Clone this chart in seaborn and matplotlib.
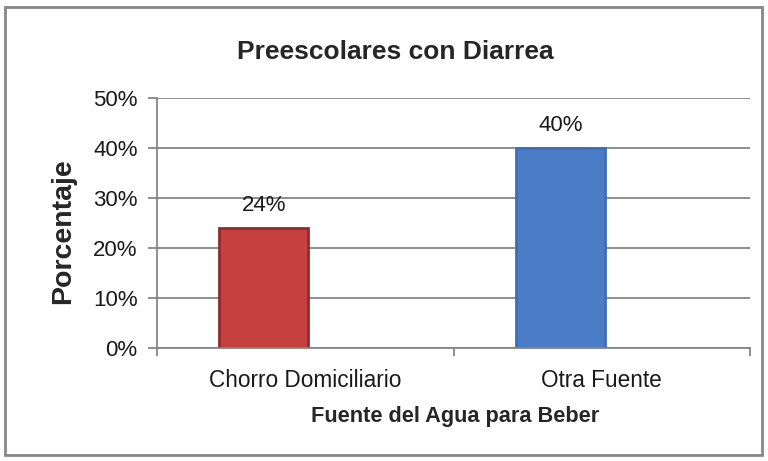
import matplotlib.pyplot as plt
import matplotlib.patches as mpatches
import seaborn as sns
import pandas as pd
from matplotlib.ticker import PercentFormatter

categorias = ["Chorro Domiciliario", "Otra Fuente"]
porcentajes = [24, 40]
colores = ["#C6403F", "#4A7DC6"]
bordes = ["#8E2B2B", "#3F6FB3"]
ticks_y = [0, 10, 20, 30, 40, 50]

sns.set_style("white")
plt.rcParams['font.family'] = ['Liberation Sans', 'DejaVu Sans']
GRIS = "#868686"
desplazamiento = -0.14  # las barras van algo a la izquierda del centro (como en Excel)

df = pd.DataFrame({"fuente": categorias, "pct": porcentajes})

fig = plt.figure(figsize=(7.68, 4.61), dpi=100)
ax = fig.add_axes([0.2044, 0.2451, 0.7722, 0.5423])

sns.barplot(data=df, x="fuente", y="pct", hue="fuente", palette=colores,
            width=0.3, legend=False, ax=ax, saturation=1)
for bar, ec in zip(ax.patches, bordes):
    bar.set_x(bar.get_x() + desplazamiento)
    bar.set_edgecolor(ec)
    bar.set_linewidth(2)

ax.set_ylim(0, 50)
ax.set_xlim(-0.5, 1.5)
ax.set_yticks(ticks_y)
ax.yaxis.set_major_formatter(PercentFormatter(decimals=0))
ax.grid(axis="y", color=GRIS, linewidth=1.3)
ax.set_axisbelow(True)
for s in ["top", "right"]:
    ax.spines[s].set_visible(False)
for s in ["left", "bottom"]:
    ax.spines[s].set_color(GRIS)
    ax.spines[s].set_linewidth(1.3)

# marcas del eje x en los limites de categoria
ax.set_xticks([-0.5, 0.5, 1.5], minor=True)
ax.tick_params(axis="x", which="major", bottom=True, length=0, labelsize=16.3,
               pad=15, labelcolor="#1a1a1a")
ax.tick_params(axis="x", which="minor", bottom=True, length=6, color=GRIS,
               width=1.3, direction="out")
ax.tick_params(axis="y", left=True, length=6.5, color=GRIS, width=1.3,
               direction="out", labelsize=16, pad=7.5, labelcolor="#1a1a1a")

for i, v in enumerate(porcentajes):
    ax.text(i + desplazamiento, v + 2.4, f"{v}%", ha="center", va="bottom",
            fontsize=16, color="#1a1a1a")

ax.set_ylabel("Porcentaje", fontsize=20.5, fontweight="bold", va="center")
ax.yaxis.set_label_coords(-0.158, 0.468)
ax.set_xlabel("Fuente del Agua para Beber", fontsize=15.7, fontweight="bold",
              va="top")
ax.xaxis.set_label_coords(0.5025, -0.232)

fig.text(395 / 768, 1 - 59 / 461, "Preescolares con Diarrea", ha="center",
         va="baseline", fontsize=19, fontweight="bold")

fig.patches.append(mpatches.Rectangle((0.007, 0.013), 0.985, 0.972,
                                      transform=fig.transFigure, fill=False,
                                      edgecolor=GRIS, linewidth=2))

fig.savefig("out.png", dpi=100)
